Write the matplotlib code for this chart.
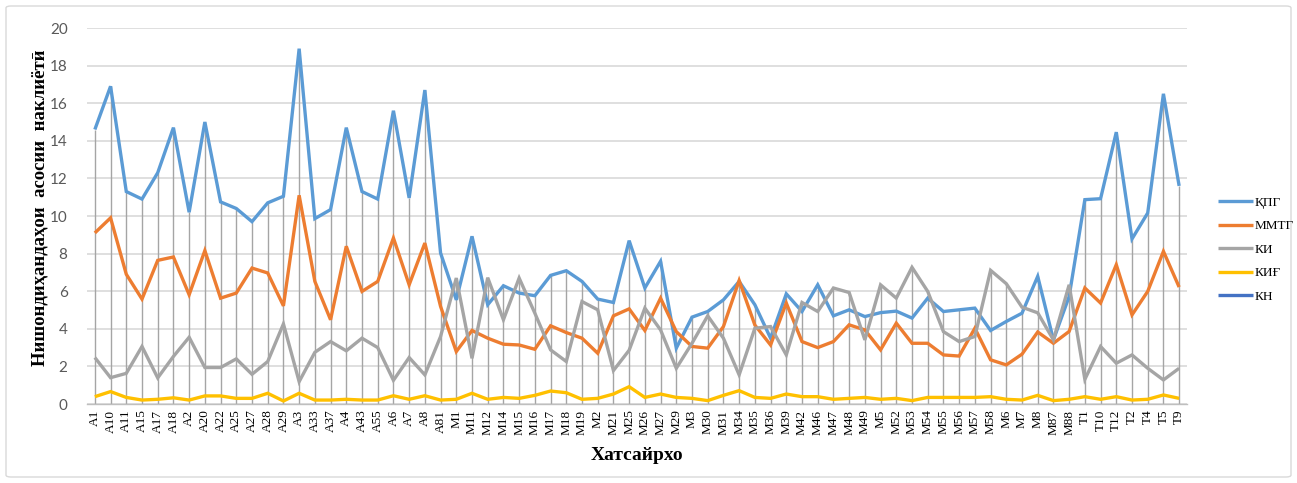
import matplotlib
matplotlib.use("Agg")
import matplotlib.pyplot as plt
import numpy as np
from matplotlib.patches import FancyBboxPatch

# -----------------------------------------------------------------------------
# DATA
# -----------------------------------------------------------------------------

routes = ["A1", "A10", "A11", "A15", "A17", "A18", "A2", "A20", "A22", "A25",
          "A27", "A28", "A29", "A3", "A33", "A37", "A4", "A43", "A55", "A6",
          "A7", "A8", "A81", "M1", "M11", "M12", "M14", "M15", "M16", "M17",
          "M18", "M19", "M2", "M21", "M25", "M26", "M27", "M29", "M3", "M30",
          "M31", "M34", "M35", "M36", "M39", "M42", "M46", "M47", "M48", "M49",
          "M5", "M52", "M53", "M54", "M55", "M56", "M57", "M58", "M6", "M7",
          "M8", "M87", "M88", "T1", "T10", "T12", "T2", "T4", "T5", "T9"]

kpg = [14.6, 16.9, 11.3, 10.9, 12.3, 14.7, 10.2, 15.0, 10.75, 10.4,
       9.7, 10.7, 11.05, 18.9, 9.86, 10.34, 14.7, 11.3, 10.9, 15.6,
       10.96, 16.7, 8.03, 5.54, 8.92, 5.28, 6.29, 5.9, 5.76, 6.84,
       7.09, 6.52, 5.58, 5.4, 8.69, 6.17, 7.59, 2.97, 4.62, 4.92,
       5.54, 6.52, 5.28, 3.5, 5.86, 4.92, 6.34, 4.69, 5.01, 4.65,
       4.86, 4.94, 4.57, 5.63, 4.92, 5.01, 5.1, 3.91, 4.39, 4.83,
       6.79, 3.41, 5.72, 10.87, 10.92, 14.46, 8.78, 10.16, 16.5, 11.6]

mmtg = [9.1, 9.9, 6.9, 5.58, 7.64, 7.82, 5.81, 8.16, 5.63, 5.9,
        7.23, 6.97, 5.22, 11.1, 6.52, 4.48, 8.39, 5.99, 6.52, 8.83,
        6.34, 8.56, 5.19, 2.79, 3.91, 3.5, 3.18, 3.14, 2.91, 4.16,
        3.8, 3.5, 2.7, 4.69, 5.06, 3.91, 5.63, 3.85, 3.06, 2.97,
        4.12, 6.57, 4.2, 3.14, 5.37, 3.32, 3.0, 3.32, 4.21, 3.94,
        2.88, 4.3, 3.23, 3.23, 2.61, 2.55, 4.03, 2.35, 2.08, 2.65,
        3.83, 3.23, 3.86, 6.17, 5.37, 7.41, 4.74, 5.99, 8.12, 6.22]

ki = [2.47, 1.4, 1.63, 3.06, 1.39, 2.53, 3.55, 1.94, 1.94, 2.4,
      1.58, 2.26, 4.26, 1.19, 2.75, 3.32, 2.83, 3.5, 3.0, 1.26,
      2.47, 1.55, 3.59, 6.7, 2.43, 6.72, 4.48, 6.7, 4.83, 2.88,
      2.26, 5.45, 5.01, 1.78, 2.86, 5.1, 3.94, 1.9, 3.23, 4.69,
      3.5, 1.55, 4.03, 4.12, 2.61, 5.4, 4.92, 6.17, 5.93, 3.41,
      6.34, 5.63, 7.27, 5.99, 3.85, 3.32, 3.59, 7.11, 6.4, 5.15,
      4.85, 3.41, 6.34, 1.31, 3.06, 2.17, 2.61, 1.9, 1.28, 1.9]

kig = [0.39, 0.66, 0.35, 0.21, 0.25, 0.33, 0.21, 0.43, 0.43, 0.3,
       0.3, 0.57, 0.16, 0.57, 0.21, 0.21, 0.25, 0.21, 0.21, 0.44,
       0.25, 0.44, 0.21, 0.25, 0.57, 0.25, 0.35, 0.3, 0.46, 0.69,
       0.6, 0.25, 0.3, 0.53, 0.92, 0.35, 0.53, 0.35, 0.3, 0.18,
       0.46, 0.71, 0.35, 0.3, 0.53, 0.39, 0.39, 0.25, 0.3, 0.35,
       0.25, 0.3, 0.18, 0.35, 0.35, 0.35, 0.35, 0.39, 0.25, 0.21,
       0.46, 0.18, 0.25, 0.39, 0.25, 0.39, 0.21, 0.25, 0.48, 0.3]

kn = []  # series present in the legend only

series = [("ҚПГ", kpg, "#5B9BD5"), ("ММТГ", mmtg, "#ED7D31"),
          ("КИ", ki, "#A5A5A5"), ("КИҒ", kig, "#FFC000"), ("КН", kn, "#4472C4")]

# -----------------------------------------------------------------------------
# PLOT
# -----------------------------------------------------------------------------

W, H = 1297, 483
fig = plt.figure(figsize=(W / 100, H / 100), dpi=100)
ax = fig.add_axes([87 / W, 1 - 404 / H, 1100 / W, 376 / H])

x = np.arange(len(routes))
top = np.max(np.vstack([kpg, mmtg, ki, kig]), axis=0)
ax.vlines(x, 0, top, color="#A5A5A5", lw=1.0, zorder=2)

for name, vals, col in series:
    ax.plot(x[:len(vals)], vals, color=col, lw=2.4, label=name, zorder=3,
            solid_joinstyle="miter", solid_capstyle="butt")

ax.set_xlim(-0.5, len(routes) - 0.5)
ax.set_ylim(0, 20)
ax.set_yticks(np.arange(0, 21, 2))
ax.yaxis.grid(True, color="#D9D9D9", lw=1.2)
ax.set_axisbelow(True)
for s in ["top", "right", "left"]:
    ax.spines[s].set_visible(False)
ax.spines["bottom"].set_color("#BFBFBF")
ax.spines["bottom"].set_linewidth(1.0)
ax.tick_params(axis="both", length=0)
ax.tick_params(axis="y", labelcolor="#595959", labelsize=11, pad=14)
for lab in ax.get_yticklabels():
    lab.set_family("Lato")
ax.set_xticks(x)
ax.set_xticklabels(routes, rotation=90, family="Liberation Serif", fontsize=9.5)
ax.tick_params(axis="x", pad=4)

fig.text(40 / W, 1 - 208 / H, "Нишондиҳандаҳои  асосии  наклиётӣ", rotation=90,
         ha="center", va="center", family="Liberation Serif", fontweight="bold", fontsize=13.5)
fig.text(637 / W, 1 - 455 / H, "Хатсайрхо", ha="center", va="center",
         family="Liberation Serif", fontweight="bold", fontsize=14)

fig.legend(loc="upper left", bbox_to_anchor=(1211 / W, 1 - 190 / H), frameon=False,
           borderpad=0, handlelength=2.7, handletextpad=0.1, labelspacing=0.85,
           prop={"family": "Liberation Serif", "size": 9.5})

fig.patches.append(FancyBboxPatch((6 / W, 6 / H), 1285 / W, 471 / H,
                                  boxstyle="round,pad=0,rounding_size=0.004",
                                  transform=fig.transFigure, fc="none",
                                  ec="#D9D9D9", lw=1.0))

fig.savefig("out.png", dpi=100)
